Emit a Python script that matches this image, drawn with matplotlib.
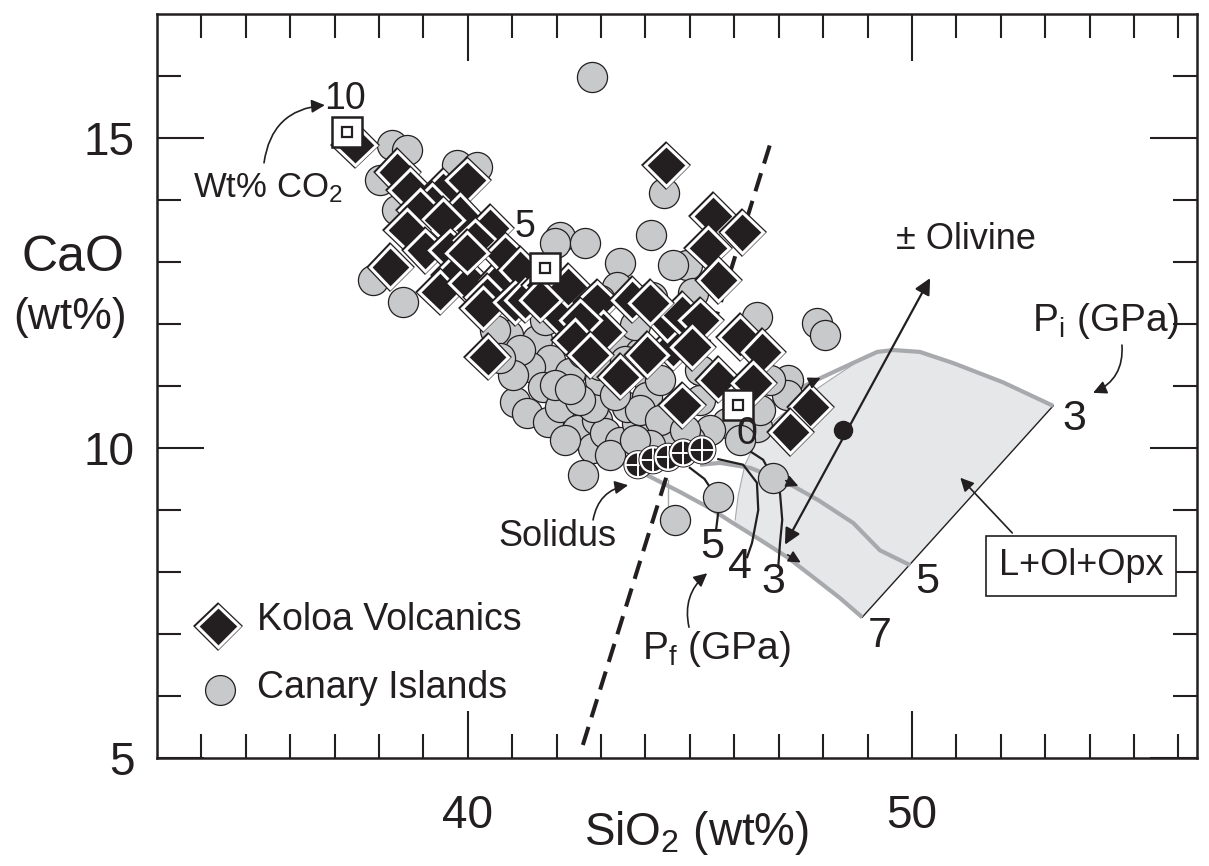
import numpy as np
import matplotlib
matplotlib.use("Agg")
import matplotlib.pyplot as plt
import matplotlib.patheffects as pe

plt.rcParams['font.family'] = ['Liberation Sans', 'DejaVu Sans']
plt.rcParams['mathtext.fontset'] = 'custom'
plt.rcParams['mathtext.rm'] = 'Liberation Sans'
plt.rcParams['mathtext.it'] = 'Liberation Sans:italic'

DARK = '#231f20'
GREY = '#c8c9cb'

# Koloa Volcanics (SiO2, CaO wt%)
koloa_sio2 = [37.46, 38.41, 38.70, 39.44, 39.98, 39.19, 38.92, 39.82, 39.44, 38.63,
              40.50, 39.04, 39.60, 40.16, 38.25, 39.71, 39.37, 40.05, 40.73, 40.43,
              40.84, 41.18, 39.98, 40.34, 41.06, 41.29, 41.74, 42.14, 42.26, 42.91,
              43.05, 42.53, 43.70, 43.43, 40.45, 44.62, 44.49, 44.46, 45.52, 46.18,
              45.41, 45.64, 44.82, 45.23, 45.05, 46.13, 46.63, 45.64, 46.42, 44.82,
              47.71, 47.26, 44.10, 42.41, 44.04, 41.63, 42.75]
koloa_cao = [14.89, 14.45, 14.16, 14.13, 14.32, 13.92, 13.84, 13.76, 13.68, 13.52,
             13.55, 13.19, 13.19, 13.35, 12.92, 12.79, 12.52, 12.66, 12.71, 12.44,
             13.11, 12.87, 13.15, 12.26, 12.35, 12.39, 12.63, 12.11, 12.60, 12.35,
             11.87, 12.06, 12.39, 11.15, 11.47, 11.63, 12.06, 14.56, 13.74, 13.48,
             13.23, 12.71, 12.15, 12.06, 11.63, 11.79, 11.55, 11.10, 11.05, 10.69,
             10.66, 10.26, 12.34, 11.74, 11.50, 12.39, 11.50]

# Canary Islands
canary_sio2 = [42.80, 44.42, 44.13, 44.94, 45.07, 46.51, 47.86, 48.05, 47.21, 47.19,
               45.84, 46.51, 38.29, 38.63, 38.02, 39.76, 40.21, 37.86, 38.54, 38.41,
               42.08, 41.96, 42.64, 43.43, 44.62, 43.36, 44.15, 40.91, 41.56, 41.85,
               41.40, 41.69, 41.06, 41.33, 41.80, 42.08, 42.30, 42.59, 42.46, 42.82,
               42.91, 43.09, 43.43, 43.81, 42.59, 43.43, 43.88, 44.04, 42.82, 43.59,
               44.04, 44.67, 45.64, 46.87, 41.18, 41.02, 42.98, 44.33, 45.23, 45.45,
               46.13, 46.58, 46.80, 45.23, 45.00, 44.33, 43.88, 42.98, 43.77, 41.74,
               40.61, 44.10, 41.96, 42.98, 43.32, 42.53, 44.33, 44.89, 44.10, 43.20,
               43.77, 42.19, 40.73, 42.30, 43.55]
canary_cao = [15.98, 14.11, 13.44, 12.95, 12.50, 12.11, 12.02, 11.82, 11.10, 10.85,
              10.40, 10.34, 14.89, 14.81, 14.32, 14.56, 14.53, 12.71, 12.35, 13.84,
              13.40, 13.31, 13.31, 12.98, 12.95, 12.60, 12.44, 11.82, 11.74, 11.42,
              11.31, 10.98, 10.74, 10.56, 10.42, 10.66, 11.21, 11.53, 10.29, 10.00,
              10.45, 10.24, 10.10, 10.40, 9.56, 11.63, 11.53, 11.15, 10.66, 10.66,
              10.82, 8.84, 9.21, 9.52, 11.58, 11.18, 11.10, 11.10, 10.77, 10.29,
              10.13, 10.61, 11.10, 11.26, 10.13, 10.13, 10.61, 12.39, 11.98, 12.06,
              11.90, 12.39, 11.02, 11.34, 10.85, 10.77, 10.45, 10.29, 10.05, 9.89,
              10.13, 10.13, 11.45, 10.95, 11.40]

# CO2 model melts (10, 5, 0 wt% CO2)
co2_sio2 = [37.28, 41.74, 46.09]
co2_cao = [15.10, 12.90, 10.69]

# solidus melts
sol_sio2 = [43.83, 44.17, 44.51, 44.85, 45.27]
sol_cao = [9.73, 9.81, 9.85, 9.92, 9.97]

# isobaric (Pi) curves bounding L+Ol+Opx field
pi3_sio2 = [46.58, 47.26, 47.86, 48.61, 49.22, 49.58, 50.18, 50.93, 52.05, 53.18]
pi3_cao = [10.65, 10.89, 11.10, 11.35, 11.55, 11.58, 11.55, 11.37, 11.06, 10.68]
pi5_sio2 = [45.23, 45.68, 46.36, 47.19, 47.89, 48.68, 49.28, 49.96]
pi5_cao = [9.73, 9.76, 9.68, 9.44, 9.16, 8.79, 8.35, 8.11]
pi7_sio2 = [44.04, 44.78, 45.45, 45.97, 46.58, 47.19, 47.77, 48.38, 48.88]
pi7_cao = [9.56, 9.29, 9.03, 8.79, 8.52, 8.24, 7.92, 7.58, 7.27]
edge_sio2 = [46.02, 46.09, 46.24, 46.51, 46.92, 47.48, 48.16, 48.83, 49.28]
edge_cao = [8.84, 9.24, 9.73, 10.13, 10.45, 10.77, 11.10, 11.42, 11.56]

# Pf paths
pf5_sio2 = [45.00, 45.33, 45.58, 45.64, 45.59]
pf5_cao = [9.68, 9.50, 9.23, 8.97, 8.68]
pf4_sio2 = [45.64, 46.20, 46.51, 46.54, 46.40, 46.29]
pf4_cao = [9.82, 9.73, 9.44, 9.00, 8.47, 8.24]
pf3_sio2 = [46.20, 46.65, 46.87, 47.03, 47.08, 47.03, 46.99]
pf3_cao = [10.02, 9.81, 9.52, 9.27, 8.84, 8.47, 8.08]

# saturation line (dashed) and olivine vector
dash_sio2 = [42.59, 46.85]
dash_cao = [5.21, 15.00]
oliv_sio2 = [47.14, 50.41]
oliv_cao = [8.44, 12.74]
oliv_dot = (48.45, 10.29)

W, H = 1209, 866
fig = plt.figure(figsize=(W / 100, H / 100), dpi=100)
ax = fig.add_axes([157 / W, (H - 758) / H, 1040 / W, 744 / H])
ax.set_xlim(33, 56.42)
ax.set_ylim(5, 17)

# L+Ol+Opx field
poly_x = edge_sio2 + pi3_sio2[2:] + pi7_sio2[::-1][:-3]
poly_y = edge_cao + pi3_cao[2:] + pi7_cao[::-1][:-3]
ax.fill(poly_x, poly_y, color='#e6e7e8', lw=0, zorder=0)
ax.plot(edge_sio2, edge_cao, color='#a7a9ac', lw=0.8, zorder=1)
ax.plot([pi3_sio2[-1], pi7_sio2[-1]], [pi3_cao[-1], pi7_cao[-1]], color=DARK, lw=1.0, zorder=1)
for xs, ys in [(pi3_sio2, pi3_cao), (pi5_sio2, pi5_cao), (pi7_sio2, pi7_cao)]:
    ax.plot(xs, ys, color='#a7a9ac', lw=3.0, zorder=1, solid_capstyle='butt')
ax.plot([44.51, 44.51], [9.48, 9.05], color='#a7a9ac', lw=1.0, zorder=1)

for xs, ys in [(pf5_sio2, pf5_cao), (pf4_sio2, pf4_cao), (pf3_sio2, pf3_cao)]:
    ax.plot(xs, ys, color=DARK, lw=1.6, zorder=2)

ax.plot(dash_sio2, dash_cao, color=DARK, lw=2.9, dashes=(4.7, 2.5), zorder=2)

# direction arrowheads on curves
for (x0, y0), (x1, y1) in [((47.10, 9.49), (47.50, 9.37)),
                           ((47.15, 8.30), (47.55, 8.13)),
                           ((47.70, 11.05), (48.00, 11.15))]:
    ax.annotate('', xy=(x1, y1), xytext=(x0, y0), zorder=6,
                arrowprops=dict(arrowstyle='-|>', color=DARK, lw=1.2, mutation_scale=18))

# data
ax.scatter(canary_sio2, canary_cao, s=470, c=GREY, edgecolors=DARK, linewidths=0.9, zorder=3)
for x, y in zip(koloa_sio2, koloa_cao):
    ax.plot(x, y, ls='none', marker='D', ms=21, mfc=DARK, mec='white', mew=2.2, zorder=4,
            path_effects=[pe.Stroke(linewidth=4.0, foreground=DARK), pe.Normal()])
for x, y in zip(sol_sio2, sol_cao):
    ax.plot(x, y, ls='none', marker='o', ms=18, mfc=DARK, mec='white', mew=1.6, zorder=4,
            path_effects=[pe.Stroke(linewidth=3.0, foreground=DARK), pe.Normal()])
    ax.plot(x, y, ls='none', marker='+', ms=17, mec='white', mew=1.4, zorder=4)
for x, y in zip(co2_sio2, co2_cao):
    ax.plot(x, y, ls='none', marker='s', ms=22, mfc='white', mec=DARK, mew=1.8, zorder=5)
    ax.plot(x, y, ls='none', marker='s', ms=7, mfc='white', mec=DARK, mew=1.6, zorder=5)

# olivine vector
ax.annotate('', xy=(oliv_sio2[1], oliv_cao[1]), xytext=(oliv_sio2[0], oliv_cao[0]), zorder=6,
            arrowprops=dict(arrowstyle='<|-|>', color=DARK, lw=1.6, mutation_scale=24, shrinkA=0, shrinkB=0))
ax.plot(*oliv_dot, marker='o', ms=13, color=DARK, zorder=6)

# annotation arrows
arr = dict(arrowstyle='-|>', color=DARK, lw=1.2, mutation_scale=20, shrinkA=0, shrinkB=0)
ax.annotate('', xy=(36.78, 15.53), xytext=(35.41, 14.60), zorder=6,
            arrowprops=dict(arr, connectionstyle='arc3,rad=-0.4'))
ax.annotate('', xy=(43.61, 9.40), xytext=(42.82, 8.84), zorder=6,
            arrowprops=dict(arr, connectionstyle='arc3,rad=-0.35'))
ax.annotate('', xy=(45.39, 7.98), xytext=(44.98, 7.11), zorder=6,
            arrowprops=dict(arr, connectionstyle='arc3,rad=-0.3'))
ax.annotate('', xy=(54.08, 10.89), xytext=(54.73, 11.66), zorder=6,
            arrowprops=dict(arr, connectionstyle='arc3,rad=-0.35'))
ax.annotate('', xy=(51.09, 9.52), xytext=(52.26, 8.63), zorder=6, arrowprops=arr)

# labels
tk = dict(color=DARK, ha='center', va='center', zorder=7)
ax.text(37.23, 15.63, '10', fontsize=27, **tk)
ax.text(35.50, 14.19, r'Wt% CO$_\mathrm{2}$', fontsize=25, **tk)
ax.text(41.29, 13.57, '5', fontsize=27, **tk)
ax.text(46.29, 10.23, '0', fontsize=27, **tk)
ax.text(42.01, 8.58, 'Solidus', fontsize=26, **tk)
ax.text(45.50, 8.41, '5', fontsize=31, **tk)
ax.text(46.13, 8.08, '4', fontsize=31, **tk)
ax.text(46.87, 7.84, '3', fontsize=31, **tk)
ax.text(45.61, 6.76, r'P$_\mathrm{f}$ (GPa)', fontsize=28, **tk)
ax.text(49.28, 6.96, '7', fontsize=31, **tk)
ax.text(50.34, 7.84, '5', fontsize=31, **tk)
ax.text(53.65, 10.47, '3', fontsize=31, **tk)
ax.text(51.22, 13.37, u'\u00b1 Olivine', fontsize=26, **tk)
ax.text(54.37, 12.05, r'P$_\mathrm{i}$ (GPa)', fontsize=28, **tk)
ax.text(53.81, 8.10, 'L+Ol+Opx', fontsize=26,
        bbox=dict(boxstyle='square,pad=0.35', fc='white', ec=DARK, lw=1.2), **tk)

# legend
ax.plot(0.0587, 0.177, transform=ax.transAxes, ls='none', marker='D', ms=21, mfc=DARK, mec='white',
        mew=2.2, path_effects=[pe.Stroke(linewidth=4.0, foreground=DARK), pe.Normal()], clip_on=False)
ax.text(0.096, 0.185, 'Koloa Volcanics', transform=ax.transAxes, fontsize=27, color=DARK, va='center')
ax.plot(0.0606, 0.0914, transform=ax.transAxes, ls='none', marker='o', ms=21.5, mfc=GREY, mec=DARK, mew=0.9)
ax.text(0.096, 0.094, 'Canary Islands', transform=ax.transAxes, fontsize=27, color=DARK, va='center')

# axes styling
ax.set_xticks([40, 50])
ax.set_xticks(np.arange(34, 57), minor=True)
ax.set_yticks([5, 10, 15])
ax.set_yticks(np.arange(6, 17), minor=True)
ax.tick_params(which='both', direction='in', top=True, right=True, width=1.5, color=DARK,
               labelsize=33, labelcolor=DARK)
ax.tick_params(which='major', length=34)
ax.tick_params(which='minor', length=17)
ax.tick_params(axis='x', pad=26)
ax.tick_params(axis='y', pad=16)
for sp in ax.spines.values():
    sp.set_linewidth(1.8)
    sp.set_color(DARK)

fig.text(73 / W, 1 - 258 / H, 'CaO', fontsize=36, color=DARK, ha='center', va='center')
fig.text(70 / W, 1 - 317 / H, '(wt%)', fontsize=32, color=DARK, ha='center', va='center')
fig.text(697 / W, 1 - 833 / H, r'SiO$_\mathrm{2}$ (wt%)', fontsize=33, color=DARK, ha='center', va='center')

fig.savefig('out.png', dpi=100)
